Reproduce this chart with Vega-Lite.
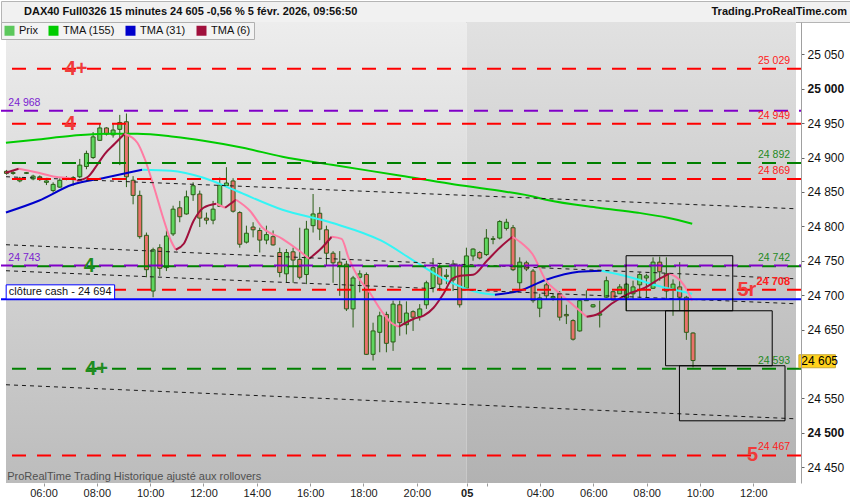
{
"$schema": "https://vega.github.io/schema/vega-lite/v6.json",
"background": "white",
"padding": 0,
"spacing": 0,
"bounds": "flush",
"resolve": {"scale": {"color": "independent"}, "legend": {"color": "independent"}},
"config": {"view": {"stroke": null}, "font": "Liberation Sans", "concat": {"spacing": 0}},
"datasets": {
"candles": [
{"t":4.61,"o":24880,"h":24882,"l":24875,"c":24877},
{"t":4.86,"o":24877,"h":24880,"l":24875,"c":24878},
{"t":5.11,"o":24866,"h":24872,"l":24864,"c":24870},
{"t":5.36,"o":24877,"h":24879,"l":24876,"c":24878},
{"t":5.61,"o":24869,"h":24875,"l":24867,"c":24873},
{"t":5.86,"o":24872,"h":24874,"l":24866,"c":24868},
{"t":6.11,"o":24864,"h":24867,"l":24860,"c":24866},
{"t":6.36,"o":24852,"h":24864,"l":24849,"c":24861},
{"t":6.61,"o":24857,"h":24870,"l":24856,"c":24867},
{"t":6.86,"o":24869,"h":24873,"l":24867,"c":24871},
{"t":7.11,"o":24871,"h":24873,"l":24859,"c":24868},
{"t":7.36,"o":24872,"h":24898,"l":24870,"c":24889},
{"t":7.61,"o":24887,"h":24910,"l":24883,"c":24906},
{"t":7.86,"o":24900,"h":24937,"l":24898,"c":24930},
{"t":8.11,"o":24925,"h":24949,"l":24924,"c":24943},
{"t":8.36,"o":24943,"h":24944,"l":24932,"c":24934},
{"t":8.61,"o":24933,"h":24949,"l":24929,"c":24940},
{"t":8.86,"o":24941,"h":24962,"l":24889,"c":24951},
{"t":9.11,"o":24952,"h":24964,"l":24857,"c":24872},
{"t":9.36,"o":24867,"h":24873,"l":24832,"c":24845},
{"t":9.61,"o":24845,"h":24852,"l":24782,"c":24785},
{"t":9.86,"o":24787,"h":24791,"l":24726,"c":24737},
{"t":10.11,"o":24706,"h":24769,"l":24697,"c":24766},
{"t":10.36,"o":24769,"h":24774,"l":24728,"c":24739},
{"t":10.61,"o":24740,"h":24794,"l":24735,"c":24786},
{"t":10.86,"o":24789,"h":24830,"l":24786,"c":24825},
{"t":11.11,"o":24827,"h":24837,"l":24806,"c":24814},
{"t":11.36,"o":24818,"h":24852,"l":24817,"c":24843},
{"t":11.61,"o":24846,"h":24864,"l":24837,"c":24859},
{"t":11.86,"o":24847,"h":24852,"l":24799,"c":24812},
{"t":12.11,"o":24812,"h":24820,"l":24803,"c":24809},
{"t":12.36,"o":24809,"h":24837,"l":24803,"c":24825},
{"t":12.61,"o":24829,"h":24871,"l":24828,"c":24860},
{"t":12.86,"o":24859,"h":24886,"l":24857,"c":24863},
{"t":13.11,"o":24866,"h":24870,"l":24820,"c":24822},
{"t":13.36,"o":24820,"h":24822,"l":24769,"c":24774},
{"t":13.61,"o":24777,"h":24801,"l":24775,"c":24790},
{"t":13.86,"o":24799,"h":24806,"l":24784,"c":24795},
{"t":14.11,"o":24794,"h":24798,"l":24762,"c":24780},
{"t":14.36,"o":24780,"h":24801,"l":24774,"c":24788},
{"t":14.61,"o":24785,"h":24794,"l":24772,"c":24773},
{"t":14.86,"o":24762,"h":24769,"l":24726,"c":24733},
{"t":15.11,"o":24731,"h":24767,"l":24718,"c":24762},
{"t":15.36,"o":24763,"h":24769,"l":24718,"c":24751},
{"t":15.61,"o":24752,"h":24798,"l":24723,"c":24726},
{"t":15.86,"o":24730,"h":24808,"l":24716,"c":24796},
{"t":16.11,"o":24801,"h":24847,"l":24791,"c":24818},
{"t":16.36,"o":24819,"h":24828,"l":24780,"c":24796},
{"t":16.61,"o":24795,"h":24801,"l":24743,"c":24761},
{"t":16.86,"o":24761,"h":24764,"l":24718,"c":24747},
{"t":17.11,"o":24748,"h":24764,"l":24699,"c":24743},
{"t":17.36,"o":24745,"h":24750,"l":24677,"c":24680},
{"t":17.61,"o":24680,"h":24728,"l":24653,"c":24725},
{"t":17.86,"o":24726,"h":24736,"l":24704,"c":24731},
{"t":18.11,"o":24730,"h":24733,"l":24613,"c":24614},
{"t":18.36,"o":24614,"h":24660,"l":24605,"c":24648},
{"t":18.61,"o":24646,"h":24676,"l":24617,"c":24670},
{"t":18.86,"o":24672,"h":24676,"l":24617,"c":24630},
{"t":19.11,"o":24632,"h":24692,"l":24619,"c":24687},
{"t":19.36,"o":24686,"h":24692,"l":24641,"c":24660},
{"t":19.61,"o":24657,"h":24691,"l":24643,"c":24674},
{"t":19.86,"o":24676,"h":24678,"l":24648,"c":24668},
{"t":20.11,"o":24669,"h":24687,"l":24663,"c":24680},
{"t":20.36,"o":24686,"h":24721,"l":24680,"c":24718},
{"t":20.61,"o":24711,"h":24754,"l":24704,"c":24740},
{"t":20.86,"o":24740,"h":24745,"l":24706,"c":24716},
{"t":21.11,"o":24727,"h":24738,"l":24716,"c":24729},
{"t":21.36,"o":24722,"h":24751,"l":24706,"c":24745},
{"t":21.61,"o":24743,"h":24745,"l":24682,"c":24686},
{"t":21.86,"o":24710,"h":24769,"l":24709,"c":24757},
{"t":22.11,"o":24757,"h":24768,"l":24750,"c":24767},
{"t":22.36,"o":24762,"h":24764,"l":24752,"c":24754},
{"t":22.61,"o":24759,"h":24796,"l":24757,"c":24783},
{"t":22.86,"o":24781,"h":24786,"l":24774,"c":24782},
{"t":23.11,"o":24783,"h":24809,"l":24781,"c":24807},
{"t":23.36,"o":24797,"h":24811,"l":24794,"c":24806},
{"t":23.61,"o":24798,"h":24802,"l":24735,"c":24737},
{"t":23.86,"o":24718,"h":24755,"l":24709,"c":24748},
{"t":24.11,"o":24747,"h":24750,"l":24735,"c":24738},
{"t":24.36,"o":24735,"h":24738,"l":24689,"c":24692},
{"t":24.61,"o":24681,"h":24702,"l":24668,"c":24696},
{"t":24.86,"o":24715,"h":24718,"l":24694,"c":24699},
{"t":25.11,"o":24696,"h":24703,"l":24692,"c":24698},
{"t":25.36,"o":24702,"h":24706,"l":24663,"c":24668},
{"t":25.61,"o":24672,"h":24686,"l":24658,"c":24670},
{"t":25.86,"o":24663,"h":24665,"l":24634,"c":24636},
{"t":26.11,"o":24648,"h":24693,"l":24647,"c":24692},
{"t":26.36,"o":24692,"h":24707,"l":24692,"c":24693},
{"t":26.61,"o":24683,"h":24687,"l":24682,"c":24686},
{"t":26.86,"o":24671,"h":24692,"l":24653,"c":24673},
{"t":27.11,"o":24697,"h":24727,"l":24696,"c":24721},
{"t":27.36,"o":24705,"h":24706,"l":24692,"c":24693},
{"t":27.61,"o":24702,"h":24716,"l":24702,"c":24712},
{"t":27.86,"o":24696,"h":24718,"l":24677,"c":24716},
{"t":28.11,"o":24702,"h":24721,"l":24694,"c":24712},
{"t":28.36,"o":24715,"h":24733,"l":24696,"c":24730},
{"t":28.61,"o":24725,"h":24731,"l":24696,"c":24728},
{"t":28.86,"o":24710,"h":24755,"l":24709,"c":24748},
{"t":29.11,"o":24748,"h":24756,"l":24721,"c":24734},
{"t":29.36,"o":24731,"h":24755,"l":24694,"c":24706},
{"t":29.61,"o":24709,"h":24723,"l":24670,"c":24716},
{"t":29.86,"o":24712,"h":24748,"l":24677,"c":24697},
{"t":30.11,"o":24697,"h":24699,"l":24635,"c":24646},
{"t":30.36,"o":24645,"h":24646,"l":24595,"c":24605}
],
"tma": [
{"s":"TMA (155)","seg":"g","t":4.59,"v":24921.5},{"s":"TMA (155)","seg":"g","t":5.70,"v":24925.9},{"s":"TMA (155)","seg":"g","t":7.07,"v":24931.7},{"s":"TMA (155)","seg":"g","t":8.30,"v":24934.6},{"s":"TMA (155)","seg":"g","t":9.52,"v":24934.6},{"s":"TMA (155)","seg":"g","t":10.89,"v":24930.2},{"s":"TMA (155)","seg":"g","t":12.00,"v":24924.4},{"s":"TMA (155)","seg":"g","t":13.48,"v":24914.2},{"s":"TMA (155)","seg":"g","t":14.96,"v":24901.2},{"s":"TMA (155)","seg":"g","t":16.81,"v":24889.5},{"s":"TMA (155)","seg":"g","t":19.41,"v":24873.5},{"s":"TMA (155)","seg":"g","t":21.26,"v":24861.9},{"s":"TMA (155)","seg":"g","t":23.11,"v":24851.7},{"s":"TMA (155)","seg":"g","t":24.22,"v":24844.5},{"s":"TMA (155)","seg":"g","t":24.85,"v":24838.7},{"s":"TMA (155)","seg":"g","t":26.81,"v":24827.0},{"s":"TMA (155)","seg":"g","t":28.30,"v":24819.8},{"s":"TMA (155)","seg":"g","t":29.41,"v":24812.5},{"s":"TMA (155)","seg":"g","t":30.33,"v":24803.8},
{"s":"TMA (31)","seg":"b1","t":4.59,"v":24820.2},{"s":"TMA (31)","seg":"b1","t":5.82,"v":24837.2},{"s":"TMA (31)","seg":"b1","t":7.07,"v":24860.4},{"s":"TMA (31)","seg":"b1","t":8.30,"v":24870.6},{"s":"TMA (31)","seg":"b1","t":9.70,"v":24882.3},
{"s":"TMA (31) ↓","seg":"c1","t":9.70,"v":24882.3},{"s":"TMA (31) ↓","seg":"c1","t":10.78,"v":24880.8},{"s":"TMA (31) ↓","seg":"c1","t":12.00,"v":24870.6},{"s":"TMA (31) ↓","seg":"c1","t":13.22,"v":24851.7},{"s":"TMA (31) ↓","seg":"c1","t":14.96,"v":24824.1},{"s":"TMA (31) ↓","seg":"c1","t":16.81,"v":24805.2},{"s":"TMA (31) ↓","seg":"c1","t":18.67,"v":24779.1},{"s":"TMA (31) ↓","seg":"c1","t":19.89,"v":24750.0},{"s":"TMA (31) ↓","seg":"c1","t":21.15,"v":24720.9},{"s":"TMA (31) ↓","seg":"c1","t":22.37,"v":24703.5},{"s":"TMA (31) ↓","seg":"c1","t":22.93,"v":24700.6},
{"s":"TMA (31)","seg":"b2","t":22.93,"v":24700.6},{"s":"TMA (31)","seg":"b2","t":23.85,"v":24706.4},{"s":"TMA (31)","seg":"b2","t":24.85,"v":24722.4},{"s":"TMA (31)","seg":"b2","t":26.07,"v":24734.0},{"s":"TMA (31)","seg":"b2","t":26.93,"v":24735.5},
{"s":"TMA (31) ↓","seg":"c2","t":26.93,"v":24735.5},{"s":"TMA (31) ↓","seg":"c2","t":27.93,"v":24726.7},{"s":"TMA (31) ↓","seg":"c2","t":29.04,"v":24713.6},{"s":"TMA (31) ↓","seg":"c2","t":30.33,"v":24702.0},
{"s":"TMA (6)","seg":"r1","t":4.59,"v":24877.9},{"s":"TMA (6)","seg":"r1","t":5.07,"v":24883.7},
{"s":"TMA (6) ↓","seg":"p1","t":5.07,"v":24883.7},{"s":"TMA (6) ↓","seg":"p1","t":5.81,"v":24877.9},{"s":"TMA (6) ↓","seg":"p1","t":6.44,"v":24872.1},{"s":"TMA (6) ↓","seg":"p1","t":7.07,"v":24869.2},{"s":"TMA (6) ↓","seg":"p1","t":7.26,"v":24866.3},
{"s":"TMA (6)","seg":"r2","t":7.26,"v":24866.3},{"s":"TMA (6)","seg":"r2","t":7.67,"v":24872.1},{"s":"TMA (6)","seg":"r2","t":8.04,"v":24891.0},{"s":"TMA (6)","seg":"r2","t":8.30,"v":24905.5},{"s":"TMA (6)","seg":"r2","t":8.67,"v":24920.0},{"s":"TMA (6)","seg":"r2","t":9.04,"v":24934.6},
{"s":"TMA (6) ↓","seg":"p2","t":9.04,"v":24934.6},{"s":"TMA (6) ↓","seg":"p2","t":9.52,"v":24921.5},{"s":"TMA (6) ↓","seg":"p2","t":9.78,"v":24899.7},{"s":"TMA (6) ↓","seg":"p2","t":10.15,"v":24856.1},{"s":"TMA (6) ↓","seg":"p2","t":10.52,"v":24808.1},{"s":"TMA (6) ↓","seg":"p2","t":10.78,"v":24779.1},{"s":"TMA (6) ↓","seg":"p2","t":10.96,"v":24766.0},
{"s":"TMA (6)","seg":"r3","t":10.96,"v":24766.0},{"s":"TMA (6)","seg":"r3","t":11.26,"v":24774.7},{"s":"TMA (6)","seg":"r3","t":11.63,"v":24808.1},{"s":"TMA (6)","seg":"r3","t":12.00,"v":24827.0},{"s":"TMA (6)","seg":"r3","t":12.48,"v":24832.8},
{"s":"TMA (6) ↓","seg":"p3","t":12.48,"v":24832.8},{"s":"TMA (6) ↓","seg":"p3","t":12.81,"v":24827.0},
{"s":"TMA (6)","seg":"r4","t":12.81,"v":24827.0},{"s":"TMA (6)","seg":"r4","t":13.22,"v":24838.7},
{"s":"TMA (6) ↓","seg":"p4","t":13.22,"v":24838.7},{"s":"TMA (6) ↓","seg":"p4","t":13.74,"v":24822.7},{"s":"TMA (6) ↓","seg":"p4","t":14.22,"v":24797.9},{"s":"TMA (6) ↓","seg":"p4","t":14.96,"v":24781.9},{"s":"TMA (6) ↓","seg":"p4","t":15.59,"v":24764.5},{"s":"TMA (6) ↓","seg":"p4","t":15.96,"v":24752.9},
{"s":"TMA (6)","seg":"r5","t":15.96,"v":24752.9},{"s":"TMA (6)","seg":"r5","t":16.44,"v":24768.9},{"s":"TMA (6)","seg":"r5","t":16.81,"v":24784.9},
{"s":"TMA (6) ↓","seg":"p5","t":16.81,"v":24784.9},{"s":"TMA (6) ↓","seg":"p5","t":17.18,"v":24781.9},{"s":"TMA (6) ↓","seg":"p5","t":17.44,"v":24754.4},{"s":"TMA (6) ↓","seg":"p5","t":17.81,"v":24725.3},{"s":"TMA (6) ↓","seg":"p5","t":18.19,"v":24706.4},{"s":"TMA (6) ↓","seg":"p5","t":18.67,"v":24677.3},{"s":"TMA (6) ↓","seg":"p5","t":19.04,"v":24659.9},{"s":"TMA (6) ↓","seg":"p5","t":19.33,"v":24654.1},
{"s":"TMA (6)","seg":"r6","t":19.33,"v":24654.1},{"s":"TMA (6)","seg":"r6","t":19.89,"v":24665.7},{"s":"TMA (6)","seg":"r6","t":20.26,"v":24670.1},{"s":"TMA (6)","seg":"r6","t":20.63,"v":24681.7},{"s":"TMA (6)","seg":"r6","t":21.00,"v":24702.0},{"s":"TMA (6)","seg":"r6","t":21.33,"v":24723.8},{"s":"TMA (6)","seg":"r6","t":21.63,"v":24728.2},{"s":"TMA (6)","seg":"r6","t":22.11,"v":24729.6},{"s":"TMA (6)","seg":"r6","t":22.63,"v":24750.0},{"s":"TMA (6)","seg":"r6","t":23.11,"v":24768.9},{"s":"TMA (6)","seg":"r6","t":23.59,"v":24784.9},
{"s":"TMA (6) ↓","seg":"p6","t":23.59,"v":24784.9},{"s":"TMA (6) ↓","seg":"p6","t":23.96,"v":24774.7},{"s":"TMA (6) ↓","seg":"p6","t":24.33,"v":24760.2},{"s":"TMA (6) ↓","seg":"p6","t":24.85,"v":24720.9},{"s":"TMA (6) ↓","seg":"p6","t":25.33,"v":24703.5},{"s":"TMA (6) ↓","seg":"p6","t":25.81,"v":24687.5},{"s":"TMA (6) ↓","seg":"p6","t":26.37,"v":24668.6},
{"s":"TMA (6)","seg":"r7","t":26.37,"v":24668.6},{"s":"TMA (6)","seg":"r7","t":26.81,"v":24673.0},{"s":"TMA (6)","seg":"r7","t":27.30,"v":24687.5},{"s":"TMA (6)","seg":"r7","t":27.93,"v":24702.0},{"s":"TMA (6)","seg":"r7","t":28.56,"v":24710.8},{"s":"TMA (6)","seg":"r7","t":29.04,"v":24722.4},{"s":"TMA (6)","seg":"r7","t":29.48,"v":24731.2},
{"s":"TMA (6) ↓","seg":"p7","t":29.48,"v":24731.2},{"s":"TMA (6) ↓","seg":"p7","t":29.89,"v":24720.9},{"s":"TMA (6) ↓","seg":"p7","t":30.15,"v":24706.4},{"s":"TMA (6) ↓","seg":"p7","t":30.33,"v":24691.9}
],
"levels": [
{"p":25029,"k":"R"},{"p":24968,"k":"P"},{"p":24949,"k":"R"},{"p":24892,"k":"G"},{"p":24869,"k":"R"},{"p":24742,"k":"G"},{"p":24743,"k":"P"},{"p":24708,"k":"R"},{"p":24593,"k":"G"},{"p":24467,"k":"R"},{"p":24694,"k":"B"}
],
"channels": [
{"ln":1,"t":4.593,"p":24872.1},{"ln":1,"t":34.222,"p":24825.6},
{"ln":2,"t":4.593,"p":24773.3},{"ln":2,"t":34.222,"p":24723.8},
{"ln":3,"t":4.593,"p":24735.5},{"ln":3,"t":34.222,"p":24687.5},
{"ln":4,"t":4.593,"p":24569.8},{"ln":4,"t":34.222,"p":24520.3}
],
"boxes": [
{"t1":27.85,"t2":31.85,"p1":24677.3,"p2":24757.3},
{"t1":29.33,"t2":33.33,"p1":24597.4,"p2":24677.3},
{"t1":29.85,"t2":33.81,"p1":24517.4,"p2":24597.4}
],
"rlabels": [
{"p":25029,"lab":"25 029","k":"R"},{"p":24949,"lab":"24 949","k":"R"},{"p":24892,"lab":"24 892","k":"G"},{"p":24869,"lab":"24 869","k":"R"},{"p":24742,"lab":"24 742","k":"G"},{"p":24708,"lab":"24 708","k":"R"},{"p":24593,"lab":"24 593","k":"G"},{"p":24467,"lab":"24 467","k":"R"}
],
"llabels": [
{"p":24968,"lab":"24 968"},{"p":24743,"lab":"24 743"}
],
"big": [
{"lab":"4+","t":7.22,"p":25029,"k":"R"},{"lab":"4","t":7.0,"p":24949,"k":"R"},{"lab":"4","t":7.72,"p":24742,"k":"G"},{"lab":"4+","t":7.99,"p":24593,"k":"G"},{"lab":"5r","t":32.38,"p":24708,"k":"R"},{"lab":"5","t":32.59,"p":24467,"k":"R"}
],
"axisref": [{"t":20,"p":24700}]
},
"vconcat": [
{
"width": 850, "height": 21,
"view": {"fill": "#f1f1f1", "stroke": "#b5b5b5"},
"data": {"values": [{"side":"L","txt":"DAX40 Full0326 15 minutes 24 605 -0,56 % 5 févr. 2026, 09:56:50"},{"side":"R","txt":"Trading.ProRealTime.com"}]},
"layer": [
{"transform":[{"filter":"datum.side == 'L'"}],"mark":{"type":"text","align":"left","baseline":"middle","fontSize":11,"fontWeight":"bold","color":"#111"},"encoding":{"x":{"field":"side","type":"nominal","scale":{"type":"point","domain":["L","R"],"range":[23,846],"padding":0},"axis":null},"text":{"field":"txt"}}},
{"transform":[{"filter":"datum.side == 'R'"}],"mark":{"type":"text","align":"right","baseline":"middle","fontSize":11,"fontWeight":"bold","color":"#111"},"encoding":{"x":{"field":"side","type":"nominal","scale":{"type":"point","domain":["L","R"],"range":[23,846],"padding":0},"axis":null},"text":{"field":"txt"}}}
]
},
{
"width": 800, "height": 461,
"layer": [
{"data":{"name":"axisref"},"mark":{"type":"point","opacity":0},
 "encoding":{"x":{"field":"t","type":"quantitative","scale":{"domain":[4.593,34.222],"nice":false,"zero":false},
   "axis":{"title":null,"orient":"bottom","values":[6,8,10,12,14,16,18,20,21.87,22.62,24.62,26.62,28.62,30.62,32.62],
     "labelExpr":"datum.value < 21 ? (datum.value < 10 ? '0' : '') + datum.value + ':00' : datum.value < 22 ? '05' : datum.value < 23 ? '' : (round(datum.value - 20.62) < 10 ? '0' : '') + round(datum.value - 20.62) + ':00'",
     "labelFontWeight":{"condition":{"test":"datum.value > 21.5 && datum.value < 22","value":"bold"},"value":"normal"},
     "grid":false,"domain":false,"tickSize":3,"tickColor":"#999","labelFont":"Liberation Sans","labelFontSize":11,"labelColor":"#1a1a1a","labelPadding":1,"labelFlush":false,"labelOverlap":false,"zindex":1}},
  "y":{"field":"p","type":"quantitative","scale":{"domain":[24427,25097],"nice":false,"zero":false},
   "axis":{"title":null,"orient":"right","values":[24450,24500,24550,24650,24700,24750,24800,24850,24900,24950,25000,25050],
     "labelExpr":"replace(format(datum.value, ','), ',', ' ')",
     "labelFontWeight":{"condition":{"test":"datum.value == 25000 || datum.value == 24500","value":"bold"},"value":"normal"},
     "grid":false,"domain":true,"domainColor":"#a0a0a0","tickSize":3,"tickColor":"#666","labelFont":"Liberation Sans","labelFontSize":12,"labelColor":"#111","labelPadding":3,"labelFlush":false,"labelOverlap":false,"zindex":1}}}},
{"data":{"values":[{}]},"mark":{"type":"rect","color":{"gradient":"linear","x1":0,"y1":0,"x2":0,"y2":1,"stops":[{"offset":0,"color":"#ededed"},{"offset":1,"color":"#bcbcbc"}]}},
 "encoding":{"x":{"datum":4.593,"type":"quantitative","scale":{"domain":[4.593,34.222],"nice":false,"zero":false}},"x2":{"datum":21.87},"y":{"datum":25097,"type":"quantitative","scale":{"domain":[24427,25097],"nice":false,"zero":false}},"y2":{"datum":24427}}},
{"data":{"values":[{}]},"mark":{"type":"rect","color":{"gradient":"linear","x1":0,"y1":0,"x2":0,"y2":1,"stops":[{"offset":0,"color":"#e1e1e1"},{"offset":1,"color":"#b2b2b2"}]}},
 "encoding":{"x":{"datum":21.87,"type":"quantitative","scale":{"domain":[4.593,34.222],"nice":false,"zero":false}},"x2":{"datum":34.222},"y":{"datum":25097,"type":"quantitative","scale":{"domain":[24427,25097],"nice":false,"zero":false}},"y2":{"datum":24427}}},
{"data":{"name":"candles"},"mark":{"type":"rule","color":"#2b5d17","strokeWidth":1},
 "encoding":{"x":{"field":"t","type":"quantitative","scale":{"domain":[4.593,34.222],"nice":false,"zero":false}},
  "y":{"field":"l","type":"quantitative","scale":{"domain":[24427,25097],"nice":false,"zero":false}},
  "y2":{"field":"h"}}},
{"data":{"name":"candles"},"mark":{"type":"bar","orient":"vertical","size":4,"stroke":"#2b5d17","strokeWidth":1},
 "encoding":{"x":{"field":"t","type":"quantitative","scale":{"domain":[4.593,34.222],"nice":false,"zero":false}},
  "y":{"field":"o","type":"quantitative","scale":{"domain":[24427,25097],"nice":false,"zero":false}},"y2":{"field":"c"},
  "fill":{"condition":{"test":"datum.c >= datum.o","value":"#5fd65f"},"value":"#e9716b"}}},
{"data":{"name":"tma"},"mark":{"type":"line","strokeWidth":2,"interpolate":"monotone"},
 "encoding":{"x":{"field":"t","type":"quantitative","scale":{"domain":[4.593,34.222],"nice":false,"zero":false}},
  "y":{"field":"v","type":"quantitative","scale":{"domain":[24427,25097],"nice":false,"zero":false}},
  "detail":{"field":"seg"},
  "color":{"field":"s","type":"nominal","scale":{"domain":["Prix","TMA (155)","TMA (31)","TMA (6)","TMA (31) ↓","TMA (6) ↓"],"range":["#5cc85c","#00cc00","#0000cc","#a0103c","#33f5f5","#ff7ba3"]},
   "legend":{"values":["Prix","TMA (155)","TMA (31)","TMA (6)"],"orient":"top-left","direction":"horizontal","title":null,"offset":0,"padding":3,"fillColor":"#f3f3f3","strokeColor":"#b0b0b0","symbolType":"square","symbolSize":100,"symbolStrokeWidth":0,"labelFont":"Liberation Sans","labelFontSize":11,"labelColor":"#111","columnPadding":10,"labelOffset":4,
    "encode":{"symbols":{"update":{"fill":{"signal":"datum.value == 'Prix' ? '#5cc85c' : datum.value == 'TMA (155)' ? '#00cc00' : datum.value == 'TMA (31)' ? '#0000cc' : '#a0103c'"},"fillOpacity":{"value":1},"strokeWidth":{"value":0}}}}}}}},
{"data":{"name":"channels"},"mark":{"type":"line","color":"#1a1a1a","strokeWidth":1,"strokeDash":[4,4]},
 "encoding":{"x":{"field":"t","type":"quantitative","scale":{"domain":[4.593,34.222],"nice":false,"zero":false}},
  "y":{"field":"p","type":"quantitative","scale":{"domain":[24427,25097],"nice":false,"zero":false}},"detail":{"field":"ln"}}},
{"data":{"name":"levels"},"transform":[{"filter":"datum.k == 'B'"}],"mark":{"type":"rule","color":"#0000ff","strokeWidth":2},
 "encoding":{"y":{"field":"p","type":"quantitative","scale":{"domain":[24427,25097],"nice":false,"zero":false}}}},
{"data":{"name":"levels"},"transform":[{"filter":"datum.k == 'G'"}],"mark":{"type":"rule","color":"#008000","strokeWidth":2,"strokeDash":[14,11]},
 "encoding":{"y":{"field":"p","type":"quantitative","scale":{"domain":[24427,25097],"nice":false,"zero":false}}}},
{"data":{"name":"levels"},"transform":[{"filter":"datum.k == 'P'"}],"mark":{"type":"rule","color":"#8000c8","strokeWidth":2,"strokeDash":[14,11],"strokeDashOffset":12},
 "encoding":{"y":{"field":"p","type":"quantitative","scale":{"domain":[24427,25097],"nice":false,"zero":false}}}},
{"data":{"name":"levels"},"transform":[{"filter":"datum.k == 'R'"}],"mark":{"type":"rule","color":"#ff0000","strokeWidth":2,"strokeDash":[14,11]},
 "encoding":{"y":{"field":"p","type":"quantitative","scale":{"domain":[24427,25097],"nice":false,"zero":false}}}},
{"data":{"name":"boxes"},"mark":{"type":"rect","fill":"transparent","stroke":"#000000","strokeWidth":1},
 "encoding":{"x":{"field":"t1","type":"quantitative","scale":{"domain":[4.593,34.222],"nice":false,"zero":false}},"x2":{"field":"t2"},
  "y":{"field":"p1","type":"quantitative","scale":{"domain":[24427,25097],"nice":false,"zero":false}},"y2":{"field":"p2"}}},
{"data":{"values":[{}]},"mark":{"type":"rect","fill":"#ffffff","stroke":"#0000ff","strokeWidth":1},
 "encoding":{"x":{"datum":4.6,"type":"quantitative","scale":{"domain":[4.593,34.222],"nice":false,"zero":false}},"x2":{"datum":8.667},
  "y":{"datum":24694.5,"type":"quantitative","scale":{"domain":[24427,25097],"nice":false,"zero":false}},"y2":{"datum":24715}}},
{"data":{"values":[{"txt":"clôture cash -  24 694"}]},"mark":{"type":"text","align":"left","baseline":"middle","fontSize":11,"color":"#111"},
 "encoding":{"x":{"datum":4.7,"type":"quantitative","scale":{"domain":[4.593,34.222],"nice":false,"zero":false}},
  "y":{"datum":24705,"type":"quantitative","scale":{"domain":[24427,25097],"nice":false,"zero":false}},"text":{"field":"txt"}}},
{"data":{"name":"rlabels"},"transform":[{"filter":"datum.p != 24708"}],"mark":{"type":"text","align":"right","baseline":"bottom","dy":-3,"fontSize":10.5},
 "encoding":{"x":{"datum":34.0,"type":"quantitative","scale":{"domain":[4.593,34.222],"nice":false,"zero":false}},
  "y":{"field":"p","type":"quantitative","scale":{"domain":[24427,25097],"nice":false,"zero":false}},"text":{"field":"lab"},
  "color":{"condition":{"test":"datum.k == 'G'","value":"#1f8a1f"},"value":"#ff2020"}}},
{"data":{"name":"rlabels"},"transform":[{"filter":"datum.p == 24708"}],"mark":{"type":"text","align":"right","baseline":"bottom","dy":-3,"fontSize":11,"fontWeight":"bold","color":"#ff2020"},
 "encoding":{"x":{"datum":34.0,"type":"quantitative","scale":{"domain":[4.593,34.222],"nice":false,"zero":false}},
  "y":{"field":"p","type":"quantitative","scale":{"domain":[24427,25097],"nice":false,"zero":false}},"text":{"field":"lab"}}},
{"data":{"name":"llabels"},"mark":{"type":"text","align":"left","baseline":"bottom","dy":-3,"fontSize":10.5,"color":"#7a22d0"},
 "encoding":{"x":{"datum":4.68,"type":"quantitative","scale":{"domain":[4.593,34.222],"nice":false,"zero":false}},
  "y":{"field":"p","type":"quantitative","scale":{"domain":[24427,25097],"nice":false,"zero":false}},"text":{"field":"lab"}}},
{"data":{"name":"big"},"mark":{"type":"text","align":"center","baseline":"middle","fontSize":20,"fontWeight":"bold"},
 "encoding":{"x":{"field":"t","type":"quantitative","scale":{"domain":[4.593,34.222],"nice":false,"zero":false}},
  "y":{"field":"p","type":"quantitative","scale":{"domain":[24427,25097],"nice":false,"zero":false}},"text":{"field":"lab"},
  "color":{"condition":{"test":"datum.k == 'G'","value":"#1f8c1f"},"value":"#f03a3a"}}},
{"data":{"values":[{"txt":"ProRealTime Trading Historique ajusté aux rollovers"}]},"mark":{"type":"text","align":"left","baseline":"middle","fontSize":11,"color":"#505050"},
 "encoding":{"x":{"datum":4.64,"type":"quantitative","scale":{"domain":[4.593,34.222],"nice":false,"zero":false}},
  "y":{"datum":24435.5,"type":"quantitative","scale":{"domain":[24427,25097],"nice":false,"zero":false}},"text":{"field":"txt"}}},
{"data":{"values":[{}]},"mark":{"type":"rect","fill":"#ffd21c","stroke":"#c8a838","strokeWidth":1},
 "encoding":{"x":{"datum":34.33,"type":"quantitative","scale":{"domain":[4.593,34.222],"nice":false,"zero":false}},"x2":{"datum":35.70},
  "y":{"datum":24613.4,"type":"quantitative","scale":{"domain":[24427,25097],"nice":false,"zero":false}},"y2":{"datum":24594.5}}},
{"data":{"values":[{"txt":"24 605"}]},"mark":{"type":"text","align":"left","baseline":"middle","fontSize":12,"color":"#000"},
 "encoding":{"x":{"datum":34.42,"type":"quantitative","scale":{"domain":[4.593,34.222],"nice":false,"zero":false}},
  "y":{"datum":24604,"type":"quantitative","scale":{"domain":[24427,25097],"nice":false,"zero":false}},"text":{"field":"txt"}}}
]
}
]
}
